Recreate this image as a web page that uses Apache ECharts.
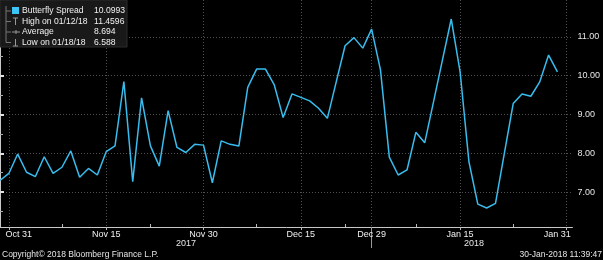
<!DOCTYPE html>
<html>
<head>
<meta charset="utf-8">
<script src="https://cdn.jsdelivr.net/npm/echarts@6/dist/echarts.min.js"></script>
<style>
html,body{margin:0;padding:0;background:#000;}
#chart{width:603px;height:260px;}
</style>
</head>
<body>
<div id="chart"></div>
<script>
// Business days (axis categories), including Jan 31 at the right end of the axis
const dates = [
  'Oct 30','Oct 31',
  'Nov 1','Nov 2','Nov 3','Nov 6','Nov 7','Nov 8','Nov 9','Nov 10','Nov 13','Nov 14','Nov 15','Nov 16','Nov 17',
  'Nov 20','Nov 21','Nov 22','Nov 23','Nov 24','Nov 27','Nov 28','Nov 29','Nov 30',
  'Dec 1','Dec 4','Dec 5','Dec 6','Dec 7','Dec 8','Dec 11','Dec 12','Dec 13','Dec 14','Dec 15',
  'Dec 18','Dec 19','Dec 20','Dec 21','Dec 22','Dec 27','Dec 28','Dec 29',
  'Jan 2','Jan 3','Jan 4','Jan 5','Jan 8','Jan 9','Jan 10','Jan 11','Jan 12','Jan 15','Jan 16','Jan 17',
  'Jan 18','Jan 19','Jan 22','Jan 23','Jan 24','Jan 25','Jan 26','Jan 29','Jan 30','Jan 31'
];
// Butterfly Spread values (one per business day, Oct 30 .. Jan 30)
const spread = [
  7.30,7.48,7.98,7.51,7.40,7.91,7.48,7.64,8.06,7.38,
  7.61,7.44,8.04,8.19,9.85,7.27,9.43,8.19,7.67,9.10,
  8.15,8.02,8.23,8.21,7.24,8.32,8.23,8.19,9.70,10.17,
  10.17,9.76,8.92,9.53,9.44,9.35,9.16,8.90,9.84,10.77,
  10.98,10.71,11.20,10.15,7.90,7.44,7.57,8.54,8.27,9.33,
  10.40,11.46,10.10,7.78,6.69,6.59,6.71,8.00,9.28,9.53,
  9.47,9.84,10.53,10.10
];
const xTickLabels = ['Oct 31','Nov 15','Nov 30','Dec 15','Dec 29','Jan 15','Jan 31'];
const xMinorTickDates = ['Nov 8','Nov 22','Dec 8','Dec 22','Jan 8','Jan 23'];
const yearDividerDate = 'Dec 29';
const yearLabels = ['2017','2018'];
const yTicks = [7,8,9,10,11];
const yMinorTicks = [6.5,7.5,8.5,9.5,10.5,11.5];
const legendNames = ['Butterfly Spread','High on 01/12/18','Average','Low on 01/18/18'];
const legendValues = ['10.0993','11.4596','8.694','6.588'];
const footerLeft = 'Copyright\u00A9 2018 Bloomberg Finance L.P.';
const footerRight = '30-Jan-2018 11:39:47';

const LINE = '#38bdee';
const FONT = 'Liberation Sans';
const majorIdx = xTickLabels.map(d => dates.indexOf(d));
const minorIdx = xMinorTickDates.map(d => dates.indexOf(d));
const dividerIdx = dates.indexOf(yearDividerDate);
const X_MAX = 64.7, Y_MIN = 6.1, Y_MAX = 11.95;

const chart = echarts.init(document.getElementById('chart'), null, {renderer:'canvas'});

const legendRowY = [11, 21.5, 32, 42.3];
const LF = '8.6px "' + FONT + '"';
const graphics = [
  {type:'rect', z:100, shape:{x:0,y:0,width:127,height:47}, style:{fill:'#191919', stroke:'#2c2c2c', lineWidth:1}},
  {type:'polyline', z:101, shape:{points:[[6,6],[6,42.5],[11,42.5]]}, style:{stroke:'#777', lineWidth:1, fill:null}},
  {type:'line', z:101, shape:{x1:6,y1:11,x2:11,y2:11}, style:{stroke:'#777', lineWidth:1}},
  {type:'line', z:101, shape:{x1:6,y1:21.5,x2:11,y2:21.5}, style:{stroke:'#777', lineWidth:1}},
  {type:'line', z:101, shape:{x1:6,y1:32,x2:11,y2:32}, style:{stroke:'#777', lineWidth:1}},
  {type:'rect', z:102, shape:{x:12,y:7,width:7,height:7}, style:{fill:'#3cc6f7'}},
  // high icon
  {type:'line', z:102, shape:{x1:13,y1:18,x2:18,y2:18}, style:{stroke:'#999', lineWidth:1}},
  {type:'line', z:102, shape:{x1:15.5,y1:18,x2:15.5,y2:25}, style:{stroke:'#999', lineWidth:1}},
  // average icon
  {type:'line', z:102, shape:{x1:12,y1:32,x2:20,y2:32}, style:{stroke:'#999', lineWidth:1}},
  {type:'line', z:102, shape:{x1:16,y1:30,x2:16,y2:34}, style:{stroke:'#999', lineWidth:1}},
  // low icon
  {type:'line', z:102, shape:{x1:15.5,y1:39,x2:15.5,y2:46}, style:{stroke:'#999', lineWidth:1}},
  {type:'line', z:102, shape:{x1:13,y1:46,x2:18,y2:46}, style:{stroke:'#999', lineWidth:1}}
];
legendNames.forEach((n, i) => {
  graphics.push({type:'text', z:103, x:22, y:legendRowY[i], style:{text:n, fill:'#f0f0f0', font:LF, verticalAlign:'middle'}});
  graphics.push({type:'text', z:103, x:94, y:legendRowY[i], style:{text:legendValues[i], fill:'#f0f0f0', font:LF, verticalAlign:'middle'}});
});
graphics.push({type:'text', z:103, x:186, y:243.5, style:{text:yearLabels[0], fill:'#e6e6e6', font:'9px "' + FONT + '"', align:'center', verticalAlign:'middle'}});
graphics.push({type:'text', z:103, x:474, y:243.5, style:{text:yearLabels[1], fill:'#e6e6e6', font:'9px "' + FONT + '"', align:'center', verticalAlign:'middle'}});
graphics.push({type:'text', z:103, x:2, y:254.5, style:{text:footerLeft, fill:'#e6e6e6', font:'8.5px "' + FONT + '"', align:'left', verticalAlign:'middle'}});
graphics.push({type:'text', z:103, x:602, y:254.5, style:{text:footerRight, fill:'#e6e6e6', font:'8.5px "' + FONT + '"', align:'right', verticalAlign:'middle'}});

const option = {
  backgroundColor:'#000',
  animation:false,
  textStyle:{fontFamily:FONT},
  grid:{left:0, right:29, top:0, bottom:33, containLabel:false},
  xAxis:[
    {
      type:'value', min:0, max:X_MAX, position:'bottom',
      axisLine:{show:true, lineStyle:{color:'#c8c8c8', width:1}},
      axisTick:{show:true, customValues:majorIdx, length:3, lineStyle:{color:'#bbb'}},
      axisLabel:{show:true, customValues:majorIdx, color:'#f0f0f0', fontSize:9, margin:3,
        formatter:function(v){
          const s = dates[Math.round(v)];
          if (Math.round(v) === majorIdx[0]) return '{l|' + s + '}';
          if (Math.round(v) === majorIdx[majorIdx.length-1]) return '{r|' + s + '}';
          return s;
        },
        rich:{l:{fontSize:9, color:'#f0f0f0', padding:[0,0,0,20]}, r:{fontSize:9, color:'#f0f0f0', padding:[0,18,0,0]}}
      },
      splitLine:{show:true, lineStyle:{color:'#505050', type:[1,2], width:1}}
    },
    {
      type:'value', min:0, max:X_MAX, position:'bottom',
      axisLine:{show:false},
      axisTick:{show:true, customValues:minorIdx, inside:true, length:3, lineStyle:{color:'#bbb'}},
      axisLabel:{show:false},
      splitLine:{show:false}
    },
    {
      type:'value', min:0, max:X_MAX, position:'bottom',
      axisLine:{show:false},
      axisTick:{show:true, customValues:[dividerIdx], length:21, lineStyle:{color:'#9a9a9a'}},
      axisLabel:{show:false},
      splitLine:{show:false}
    }
  ],
  yAxis:[
    {
      type:'value', min:Y_MIN, max:Y_MAX, position:'right',
      axisLine:{show:true, lineStyle:{color:'#c8c8c8', width:1}},
      axisTick:{show:true, customValues:yTicks, length:4, lineStyle:{color:'#e0e0e0', width:2}},
      axisLabel:{show:true, customValues:yTicks, color:'#e6e6e6', fontSize:9, margin:5,
        formatter:function(v){ return v.toFixed(2); }},
      splitLine:{show:true, lineStyle:{color:'#505050', type:[1,2], width:1}}
    },
    {
      type:'value', min:Y_MIN, max:Y_MAX, position:'right',
      axisLine:{show:false},
      axisTick:{show:true, customValues:yMinorTicks, length:3, lineStyle:{color:'#aaa'}},
      axisLabel:{show:false},
      splitLine:{show:false}
    }
  ],
  series:[{
    type:'line', xAxisIndex:0, yAxisIndex:0,
    data: spread.map((v, i) => [i, v]),
    showSymbol:false, symbol:'none',
    lineStyle:{color:LINE, width:1.5},
    z:5
  }],
  graphic: graphics
};
chart.setOption(option);
</script>
</body>
</html>
